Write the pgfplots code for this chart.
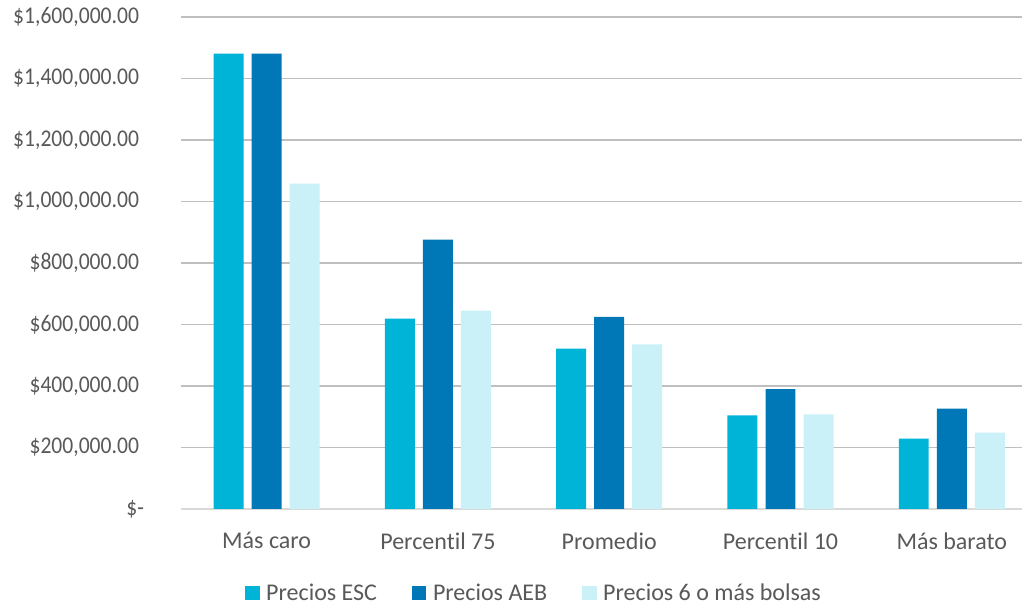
\documentclass[border=0pt]{standalone}
\usepackage{pgfplots}
\pgfplotsset{compat=1.18}
\usepackage{graphicx}
\usepackage{fontspec}
\setmainfont{Carlito}[Ligatures={NoCommon}]

\definecolor{esc}{RGB}{0,180,216}
\definecolor{aeb}{RGB}{0,119,182}
\definecolor{seis}{RGB}{202,240,248}
\definecolor{txt}{RGB}{89,89,89}
\definecolor{grid}{RGB}{217,217,217}
% y labels look a bit condensed in the original
\newcommand{\yl}[1]{\scalebox{0.9}[1]{#1}}

\begin{document}
\begin{tikzpicture}[font=\fontsize{18}{21}\selectfont]
  \begin{axis}[
    scale only axis,
    width=630.75pt,
    height=369pt,
    ybar,
    bar width=0.175,
    xmin=-0.5, xmax=4.41,
    ymin=0, ymax=1600000,
    xtick={0,1,2,3,4},
    xticklabels={Más caro, Percentil 75, Promedio, Percentil 10, Más barato},
    ytick={0,200000,400000,600000,800000,1000000,1200000,1400000,1600000},
    yticklabels={{\yl{\$-}\kern-3.75pt}, {\yl{\$200,000.00}}, {\yl{\$400,000.00}},
      {\yl{\$600,000.00}}, {\yl{\$800,000.00}}, {\yl{\$1,000,000.00}},
      {\yl{\$1,200,000.00}}, {\yl{\$1,400,000.00}}, {\yl{\$1,600,000.00}}},
    scaled y ticks=false,
    ymajorgrids, xmajorgrids=false,
    grid style={grid, line width=1.1pt},
    axis lines*=left,
    x axis line style={draw=grid, line width=1.1pt},
    y axis line style={draw=none},
    major tick length=0pt,
    tick style={draw=none},
    ticklabel style={text=txt},
    yticklabel style={xshift=-28pt, anchor=east},
    xticklabel style={yshift=-14pt},
    legend columns=3,
    legend style={draw=none, at={(0.42,0)}, anchor=center, yshift=-63pt,
      text=txt, /tikz/every even column/.append style={column sep=24pt},
      /tikz/every odd column/.append style={column sep=3pt}},
    legend image code/.code={\fill[#1] (0pt,-5.5pt) rectangle (11pt,5.5pt);},
  ]
  \addplot[fill=esc, draw=none, bar shift=-0.222] coordinates
    {(0,1481000) (1,619000) (2,521600) (3,304700) (4,229000)};
  \addplot[fill=aeb, draw=none, bar shift=0] coordinates
    {(0,1481000) (1,876000) (2,624400) (3,390200) (4,326500)};
  \addplot[fill=seis, draw=none, bar shift=0.222] coordinates
    {(0,1058000) (1,645000) (2,535600) (3,308000) (4,248500)};
  \legend{Precios ESC, Precios AEB, Precios 6 o más bolsas}
  \coordinate (bl) at (rel axis cs:0,0);
  \coordinate (tr) at (rel axis cs:1,1);
  \end{axis}
  \pgfresetboundingbox
  \path ([shift={(-135.75pt,-72.75pt)}]bl) rectangle ([shift={(1.5pt,12.75pt)}]tr);
\end{tikzpicture}
\end{document}
